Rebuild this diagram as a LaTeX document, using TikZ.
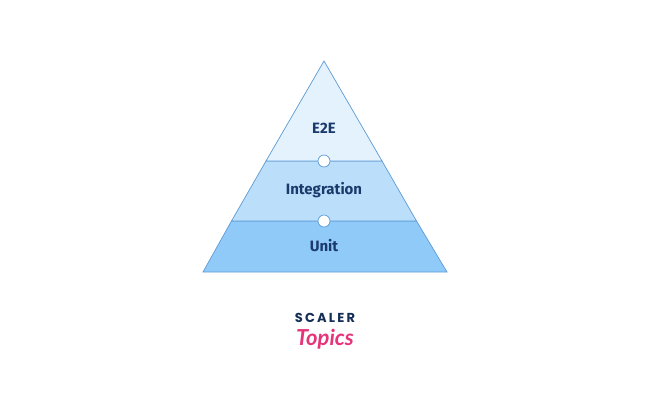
\documentclass[tikz,border=0pt]{standalone}
\usepackage{fontspec}
\setmainfont{Fira Sans}
\newfontfamily\logofont{Poppins}
\newfontfamily\topicsfont{Lato}
\definecolor{edge}{HTML}{5B9BD5}
\definecolor{ctop}{HTML}{E3F2FD}
\definecolor{cmid}{HTML}{BBDEFB}
\definecolor{cbot}{HTML}{90CAF9}
\definecolor{txt}{HTML}{1A3A6B}
\definecolor{pink}{HTML}{E6337A}
\begin{document}
\begin{tikzpicture}[x=1pt,y=-1pt,
  layer/.style={draw=edge,line width=0.7pt},
  lbl/.style={text=txt,font=\fontsize{15}{17}\selectfont\bfseries},
  joint/.style={circle,draw=edge,fill=white,minimum size=12pt,inner sep=0pt,line width=0.7pt}]
\useasboundingbox (0,0) rectangle (650,400);
\fill[white] (0,0) rectangle (650,400);
\filldraw[layer,fill=cbot] (203,272) -- (447,272) -- (416.5,221) -- (231.5,221) -- cycle;
\filldraw[layer,fill=cmid] (231.5,221) -- (416.5,221) -- (382,161) -- (266,161) -- cycle;
\filldraw[layer,fill=ctop] (266,161) -- (382,161) -- (324,61) -- cycle;
\node[lbl] (e2e) at (324,128) {E2E};
\node[lbl] (int) at (324,190) {Integration};
\node[lbl] (unit) at (324,246) {Unit};
\node[joint] (j1) at (324,161) {};
\node[joint] (j2) at (324,221) {};
\node[text=txt!80!black,font=\logofont\fontsize{13}{14}\selectfont\bfseries] (scaler) at (325,318) {S\,C\,A\,L\,E\,R};
\node[text=pink,font=\topicsfont\bfseries\itshape\fontsize{22}{24}\selectfont] (topics) at (325,339) {Topics};
\end{tikzpicture}
\end{document}
